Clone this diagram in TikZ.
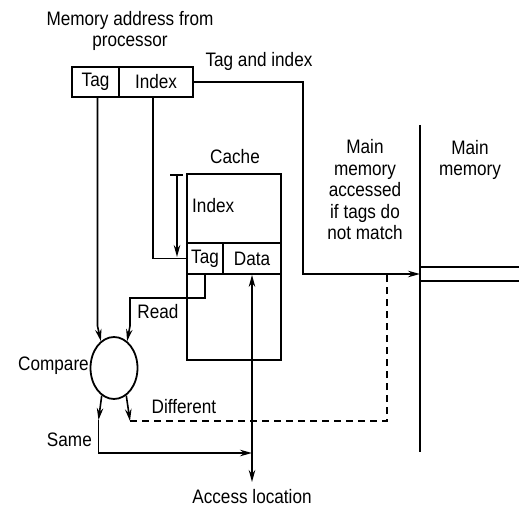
\documentclass[tikz,border=0pt]{standalone}
\usepackage{fontspec}
\setmainfont{Liberation Sans}[FakeStretch=0.88]
\usetikzlibrary{arrows.meta,positioning,shapes.geometric}
\tikzset{
    % Base text style
    basetext/.style={
        font=\fontsize{19.5}{21.5}\selectfont,
        inner sep=0pt,
        align=center
    },
    % Address field box
    fieldnode/.style={
        basetext,
        draw,
        line width=1.8pt,
        minimum height=30pt
    },
    % Cache row cell
    cellnode/.style={
        basetext,
        draw,
        line width=1.8pt,
        minimum height=31pt
    },
    % Cache outline
    cachebox/.style={
        draw,
        line width=1.8pt,
        minimum width=94pt,
        minimum height=186pt,
        inner sep=0pt
    },
    % Compare circle
    comparenode/.style={
        ellipse,
        draw,
        line width=1.8pt,
        minimum width=47pt,
        minimum height=62pt,
        inner sep=0pt
    },
    % Plain line
    plainline/.style={
        line width=1.6pt,
        line cap=butt
    },
    % Arrow styles
    myarrow/.style={
        plainline,
        -{Stealth[length=12pt,width=6.5pt]}
    },
    biarrow/.style={
        plainline,
        {Stealth[length=12pt,width=6.5pt]}-{Stealth[length=12pt,width=6.5pt]}
    },
    % Dashed path
    dashline/.style={
        plainline,
        dash pattern=on 7pt off 5pt
    }
}
\begin{document}
\begin{tikzpicture}[x=1pt, y=1pt]
        \useasboundingbox (0,0) rectangle (519,512);

        % Address from processor
        \node[basetext] (title) at (130,481) {Memory address from\\processor};
        \node[fieldnode, minimum width=47pt] (tagf) at (95.5,430) {Tag};
        \node[fieldnode, minimum width=74pt] (idxf) at (156,430) {Index};
        \node[basetext] (tagidx) at (259,451) {Tag and index};

        % Cache
        \node[cachebox] (cache) at (234,245) {};
        \node[basetext] (cachelbl) at (235,355) {Cache};
        \node[basetext, anchor=west] (indexlbl) at (192,306) {Index};
        \node[cellnode, minimum width=36pt] (tagc) at (205,253.5) {Tag};
        \node[cellnode, minimum width=58pt] (datac) at (252,253.5) {Data};

        % Compare
        \node[comparenode] (cmp) at (114,144) {};
        \node[basetext, anchor=east] (cmplbl) at (89,146) {Compare};
        \node[basetext] (readlbl) at (158,200) {Read};
        \node[basetext, anchor=east] (samelbl) at (92,72) {Same};
        \node[basetext] (difflbl) at (184,105) {Different};
        \node[basetext] (acclbl) at (252,15) {Access location};

        % Main memory
        \node[basetext] (mmnote) at (365,322) {Main\\memory\\accessed\\if tags do\\not match};
        \node[basetext] (mmlbl) at (470,352) {Main\\memory};
        \coordinate (mmtop) at (420,387);
        \coordinate (mmbot) at (420,60);
        \coordinate (mmin) at (420,238);
        \coordinate (turn) at (303,238);
        \coordinate (dashup) at (387,238);
        \draw[plainline] (mmtop) -- (mmbot);
        \draw[plainline] (mmtop |- 0,245) -- (519,245);
        \draw[plainline] (mmtop |- 0,231) -- (519,231);

        % Helper points
        \coordinate (idxtop) at (177,337);
        \coordinate (idxbot) at (177,255);
        \coordinate (tagdown) at (97.5,186);
        \coordinate (readturn) at (130,214);
        \coordinate (readdown) at (130,186);
        \coordinate (sameend) at (98.5,92);
        \coordinate (samefoot) at (98.5,59);
        \coordinate (diffend) at (130,91);
        \coordinate (acc) at (252,30);

        % Connectors
        \draw[myarrow] (idxf.east) -| (turn) -- (mmin);
        \draw[plainline] ([xshift=-3pt]idxf.south) |- (tagc.west);
        \draw[plainline] ([xshift=-7pt]idxtop) -- ([xshift=6pt]idxtop);
        \draw[myarrow] (idxtop) -- (idxbot);
        \draw[myarrow] (tagf.south -| tagdown) -- (tagdown) -- (cmp.116);
        \draw[myarrow] (tagc.south) |- (readturn) -- (readdown) -- (cmp.64);
        \draw[myarrow] (cmp.246) -- (sameend);
        \draw[myarrow] (sameend) -- (samefoot) -- (samefoot -| datac.south);
        \draw[myarrow] (cmp.294) -- (diffend);
        \draw[dashline] (diffend) -| (dashup);
        \draw[biarrow] (datac.south) -- (acc);
    \end{tikzpicture}
\end{document}
